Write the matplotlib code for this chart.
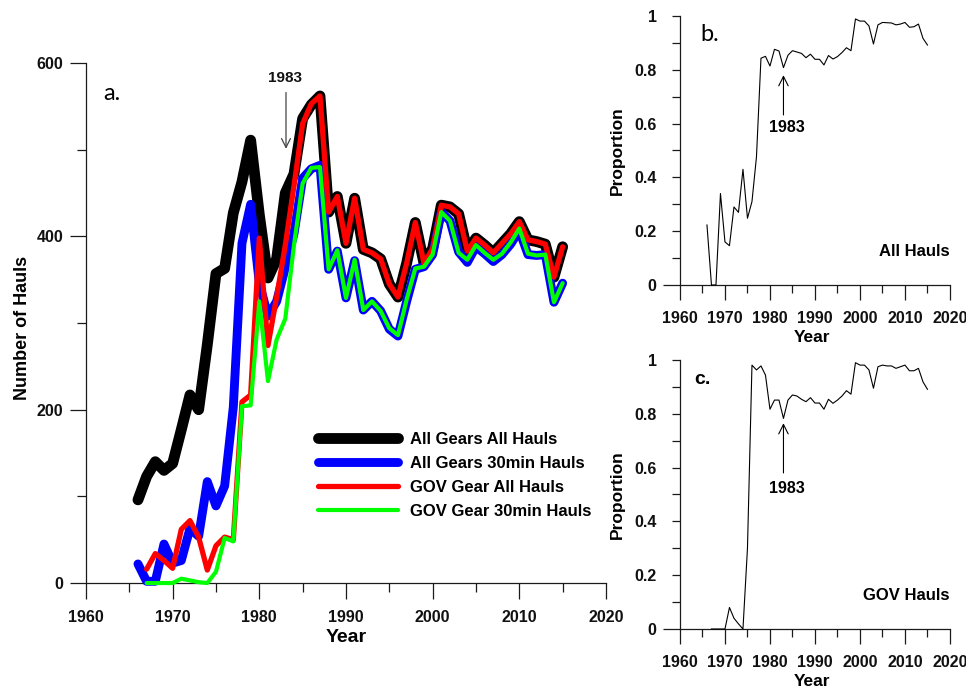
import numpy as np
import matplotlib
matplotlib.use("Agg")
import matplotlib.pyplot as plt
from matplotlib.lines import Line2D
from matplotlib.ticker import MultipleLocator, FixedLocator, FixedFormatter

# ---- survey haul counts by year -------------------------------------------
years = np.arange(1966, 2016)

all_gears_all_hauls = [96, 123, 140, 130, 138, 177, 217, 200, 275, 357,
                       363, 427, 463, 511, 425, 352, 374, 450, 472, 536,
                       552, 562, 428, 446, 392, 444, 385, 381, 374, 345,
                       330, 369, 416, 369, 386, 436, 434, 426, 383, 398,
                       390, 381, 392, 403, 417, 396, 394, 391, 353, 388]

all_gears_30min = [22, 2, 2, 45, 23, 26, 63, 54, 117, 89,
                   112, 203, 392, 437, 346, 308, 325, 364, 403, 467,
                   478, 482, 362, 383, 329, 372, 315, 325, 314, 293,
                   285, 325, 362, 365, 379, 428, 418, 382, 370, 388,
                   380, 371, 379, 391, 407, 379, 378, 379, 324, 346]

gov_all_hauls = [np.nan, 16, 34, 26, 17, 62, 72, 53, 15, 43,
                 53, 50, 209, 217, 398, 274, 330, 390, 458, 530,
                 553, 562, 428, 446, 392, 444, 385, 381, 374, 345,
                 330, 369, 416, 369, 386, 436, 434, 426, 383, 398,
                 390, 381, 392, 403, 417, 396, 394, 391, 353, 388]

gov_30min = [np.nan, 0, 0, 0, 0, 5, 3, 1, 0, 13,
             52, 48, 204, 205, 325, 233, 281, 305, 390, 461,
             479, 480, 362, 384, 329, 373, 315, 325, 314, 294,
             286, 327, 363, 365, 379, 428, 418, 381, 373, 390,
             381, 373, 380, 393, 409, 380, 378, 379, 324, 346]

# ---- proportion of 30 min hauls ---------------------------------------------
prop_all_hauls = [0.223, 0.0, 0.0, 0.34, 0.16, 0.146, 0.29, 0.27, 0.43, 0.248,
                  0.31, 0.476, 0.843, 0.850, 0.814, 0.876, 0.870, 0.808, 0.854, 0.871,
                  0.866, 0.861, 0.845, 0.858, 0.839, 0.839, 0.818, 0.853, 0.840, 0.849,
                  0.864, 0.882, 0.871, 0.989, 0.981, 0.981, 0.963, 0.896, 0.967, 0.976,
                  0.975, 0.974, 0.967, 0.970, 0.976, 0.958, 0.960, 0.970, 0.917, 0.892]

prop_gov_hauls = [np.nan, 0.0, 0.0, 0.0, 0.0, 0.08, 0.04, 0.019, 0.0, 0.30,
                  0.981, 0.963, 0.978, 0.944, 0.817, 0.851, 0.851, 0.783, 0.851, 0.870,
                  0.866, 0.854, 0.845, 0.860, 0.840, 0.840, 0.817, 0.854, 0.839, 0.851,
                  0.866, 0.886, 0.873, 0.990, 0.981, 0.981, 0.963, 0.895, 0.975, 0.981,
                  0.978, 0.978, 0.969, 0.975, 0.981, 0.960, 0.960, 0.969, 0.919, 0.891]

series_labels = ["All Gears All Hauls", "All Gears 30min Hauls",
                 "GOV Gear All Hauls", "GOV Gear 30min Hauls"]
prop_ticks = [0, 0.2, 0.4, 0.6, 0.8, 1.0]
prop_tick_labels = ["0", "0.2", "0.4", "0.6", "0.8", "1"]

# ---- styling ----------------------------------------------------------------
plt.rcParams['font.family'] = ['Liberation Sans', 'DejaVu Sans']
plt.rcParams['font.weight'] = 'bold'
AX_COL = '#1a1a1a'
PX = 0.72  # points per pixel at 100 dpi

fig = plt.figure(figsize=(9.66, 6.89), dpi=100)
ax_a = fig.add_axes([0.0890, 0.1538, 0.5383, 0.7547])
ax_b = fig.add_axes([0.7039, 0.5864, 0.2795, 0.3904])
ax_c = fig.add_axes([0.7039, 0.0871, 0.2795, 0.3904])


def base_style(ax):
    for s in ('top', 'right'):
        ax.spines[s].set_visible(False)
    for s in ('left', 'bottom'):
        ax.spines[s].set_linewidth(0.9)
        ax.spines[s].set_color(AX_COL)
    ax.set_xlim(1960, 2020)
    ax.xaxis.set_major_locator(MultipleLocator(10))
    ax.xaxis.set_minor_locator(FixedLocator(np.arange(1965, 2020, 10)))
    ax.tick_params(which='both', direction='out', width=0.9, color=AX_COL,
                   labelsize=11.5, labelcolor='#111111')


# ---- panel a ----------------------------------------------------------------
base_style(ax_a)
ax_a.set_ylim(0, 600)
ax_a.yaxis.set_major_locator(MultipleLocator(200))
ax_a.yaxis.set_minor_locator(FixedLocator([100, 300, 500]))
ax_a.tick_params(which='major', length=16 * PX)
ax_a.tick_params(which='minor', length=9 * PX)
ax_a.tick_params(axis='y', which='major', pad=5)
ax_a.tick_params(axis='x', which='major', pad=8)

line_specs = [
    (all_gears_all_hauls, 'black', 7.8),
    (all_gears_30min, '#0000ff', 6.4),
    (gov_all_hauls, '#ff0000', 3.8),
    (gov_30min, '#00ff00', 3.0),
]
for z, (vals, col, lw) in enumerate(line_specs):
    ax_a.plot(years, vals, color=col, lw=lw, solid_joinstyle='round',
              solid_capstyle='round', clip_on=False, zorder=3 + z)

handles = [Line2D([], [], color=col, lw=lw, solid_capstyle='round')
           for _, col, lw in line_specs]
ax_a.legend(handles, series_labels, loc='upper left',
            bbox_to_anchor=(0.446, 0.291), frameon=False,
            prop={'weight': 'bold', 'size': 12}, handlelength=4.8,
            handletextpad=0.7, labelspacing=0.54, borderpad=0,
            borderaxespad=0)

ax_a.set_ylabel("Number of Hauls", fontsize=13, fontweight='bold')
ax_a.yaxis.label.set_va('center')
ax_a.yaxis.set_label_coords(-0.123, 0.49)
ax_a.set_xlabel("Year", fontsize=14, fontweight='bold')
ax_a.xaxis.set_label_coords(0.5, -0.104)
ax_a.xaxis.label.set_va('center')

ax_a.text(1963.0, 565, "a.", family=['Lato', 'DejaVu Sans'], fontweight='normal',
          fontsize=17, ha='center', va='center')
ax_a.annotate("", xy=(1983.08, 501), xytext=(1983.08, 566),
              arrowprops=dict(arrowstyle='->', color='#444444', lw=0.9,
                              mutation_scale=16, shrinkA=0, shrinkB=0))
ax_a.text(1982.96, 583, "1983", fontsize=11, fontweight='bold',
          ha='center', va='center', color='#111111')

# ---- panels b and c -----------------------------------------------------------
def prop_panel(ax, values, tag, tag_xy, tag_font, note, note_y, arrow_tip,
               arrow_tail, label_y):
    base_style(ax)
    ax.set_ylim(0, 1)
    ax.yaxis.set_major_locator(FixedLocator(prop_ticks))
    ax.yaxis.set_major_formatter(FixedFormatter(prop_tick_labels))
    ax.yaxis.set_minor_locator(FixedLocator([0.1, 0.3, 0.5, 0.7, 0.9]))
    ax.tick_params(axis='y', which='both', length=8 * PX, pad=11)
    ax.tick_params(axis='x', which='major', length=15 * PX, pad=8)
    ax.tick_params(axis='x', which='minor', length=8 * PX)
    ax.plot(years, values, color='black', lw=0.8, clip_on=False, zorder=3)
    ax.set_ylabel("Proportion", fontsize=12.5, fontweight='bold')
    ax.yaxis.label.set_va('center')
    ax.yaxis.set_label_coords(-0.23, 0.5)
    ax.set_xlabel("Year", fontsize=12.5, fontweight='bold')
    ax.xaxis.set_label_coords(0.49, -0.195)
    ax.xaxis.label.set_va('center')
    ax.text(tag_xy[0], tag_xy[1], tag, ha='center', va='center', **tag_font)
    ax.text(2020, note_y, note, ha='right', va='center', fontsize=12,
            fontweight='bold')
    ax.annotate("", xy=(1983, arrow_tip), xytext=(1983, arrow_tail),
                arrowprops=dict(arrowstyle='->', color='black', lw=0.8,
                                mutation_scale=17, shrinkA=0, shrinkB=0))
    ax.text(1983.8, label_y, "1983", ha='center', va='center', fontsize=11.5,
            fontweight='bold')
    fig.canvas.draw()
    zero_tick = ax.yaxis.get_major_ticks()[0]
    zero_tick.tick1line.set_markersize(17 * PX)


prop_panel(ax_b, prop_all_hauls, "b.", (1966.7, 0.93),
           dict(family=['Lato', 'DejaVu Sans'], fontweight='normal', fontsize=17),
           "All Hauls", 0.123, 0.78, 0.632, 0.584)
prop_panel(ax_c, prop_gov_hauls, "c.", (1964.9, 0.926),
           dict(fontweight='bold', fontsize=14),
           "GOV Hauls", 0.126, 0.765, 0.58, 0.524)

fig.savefig("out.png", dpi=100)
